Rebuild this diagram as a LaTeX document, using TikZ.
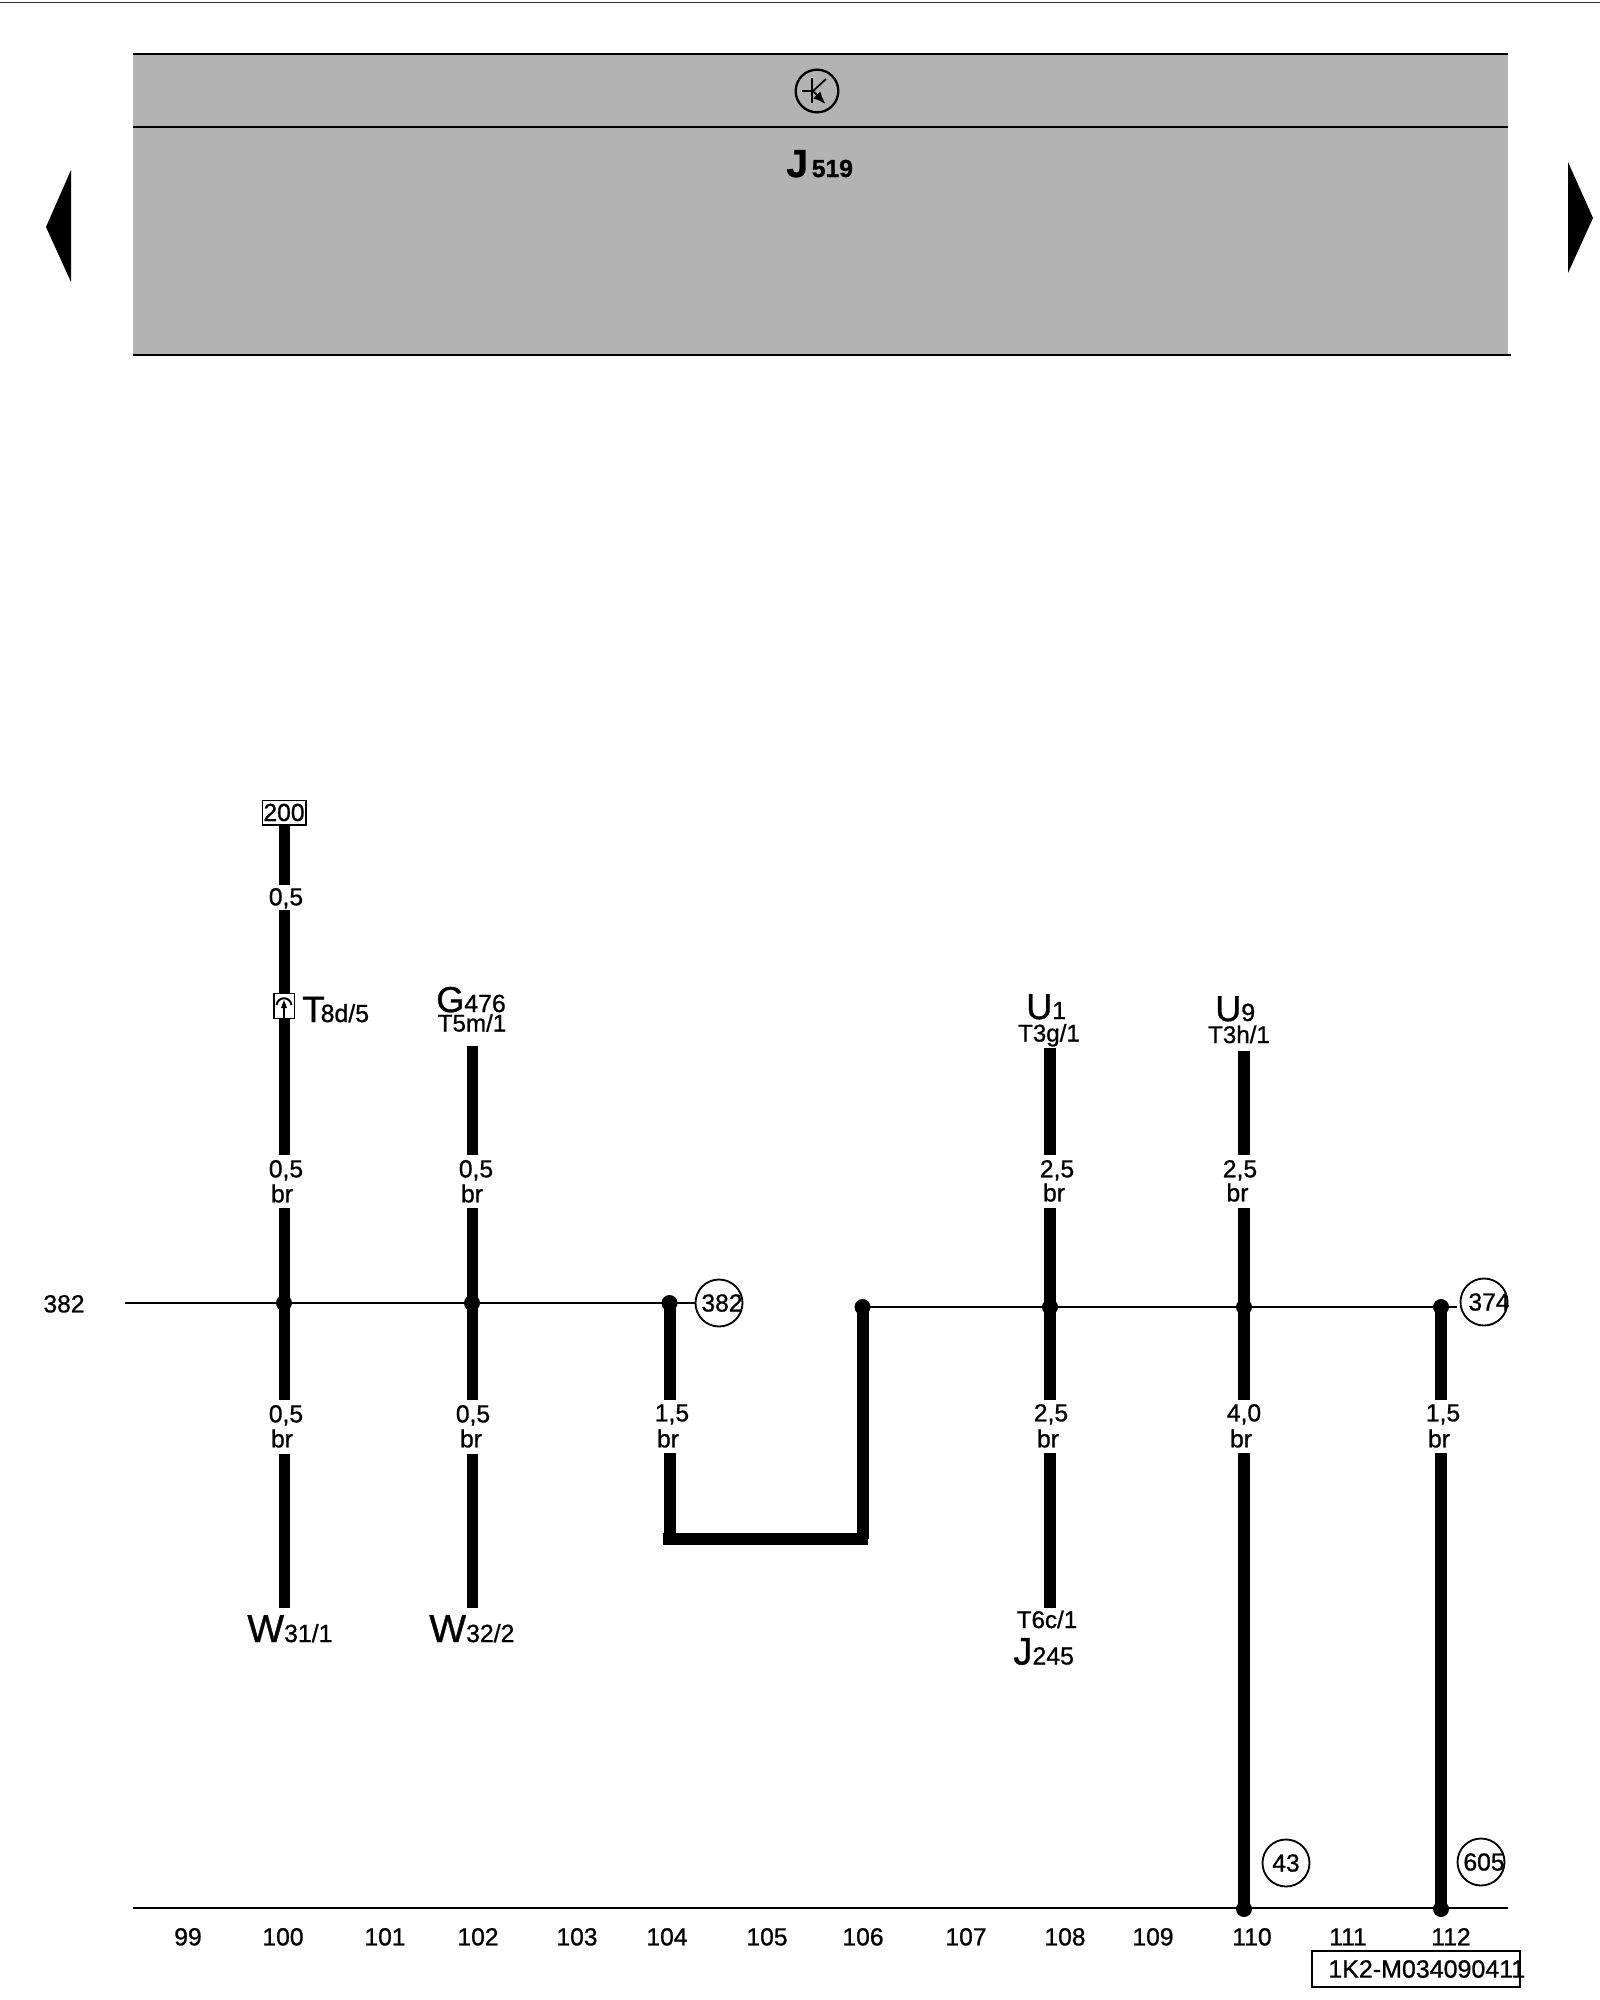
\documentclass[tikz,border=0pt]{standalone}
\usepackage{fontspec}
\setmainfont{Liberation Sans}[FakeBold=0.9]
\usetikzlibrary{arrows.meta}
\definecolor{panel}{HTML}{B3B3B3}
\newcommand{\bigsub}[3][21.6]{{\fontsize{#1}{24}\selectfont #2}{\fontsize{14.9}{18}\selectfont #3}}
\newcommand{\reftext}[2][0pt]{\makebox[0pt][c]{\hspace{#1}#2}}
\tikzset{
  wire/.style={line width=6.6pt,line cap=butt,black},
  heavy wire/.style={line width=7.2pt,line cap=butt,black},
  thin wire/.style={line width=1.2pt,black},
  joint/.style={circle,fill=black,draw=none,minimum size=9.6pt,inner sep=0pt},
  lab/.style={inner sep=0pt,font=\fontsize{14.8}{16}\selectfont,text height=10pt,text depth=0pt,anchor=center},
  pin/.style={inner sep=0pt,font=\fontsize{14.5}{16}\selectfont,text height=9.6pt,text depth=0pt,anchor=center},
  name big/.style={inner sep=0pt,anchor=base west},
  ref/.style={circle,draw=black,line width=1.1pt,fill=white,minimum size=28.2pt,inner sep=0pt,font=\fontsize{14.8}{16}\selectfont},
  col/.style={inner sep=0pt,font=\fontsize{14.8}{16}\selectfont,text height=10pt,text depth=0pt,anchor=center},
  rule/.style={line width=1.3pt,black},
  nav/.style={fill=black,draw=none}
}
\begin{document}
\begin{tikzpicture}[x=0.6pt,y=-0.6pt]
\useasboundingbox (0,0) rectangle (1600,2000);
\fill[white] (0,0) rectangle (1600,2000);
% top rule
\coordinate (tl) at (0,2.5); \coordinate (tr) at (1600,2.5);
\draw[line width=1.1pt,black!80] (tl) -- (tr);
% panel
\fill[panel] (133,54) rectangle (1508,355);
\coordinate (p1l) at (133,54);  \coordinate (p1r) at (1508,54);
\coordinate (p2l) at (133,127); \coordinate (p2r) at (1508,127);
\coordinate (p3l) at (133,355); \coordinate (p3r) at (1511,355);
\draw[rule] (p1l) -- (p1r);
\draw[rule] (p2l) -- (p2r);
\draw[rule] (p3l) -- (p3r);
% transistor symbol
\node[circle,draw=black,line width=1.4pt,minimum size=25.6pt,inner sep=0pt] (tsym) at (817,91) {};
\draw[line width=1pt] (812,78) -- (812,103);
\draw[line width=1pt] (802,91) -- (812,91);
\draw[line width=1pt] (812,92) -- (826,79);
\draw[line width=1pt,-{Latex[length=7.5pt,width=6pt]}] (812,90) -- (825.5,104);
% J519
\node[name big] (j519) at (786,177) {\bfseries{\fontsize{23.5}{26}\selectfont J}\hspace{2.2pt}{\fontsize{14.8}{18}\selectfont 519}};
% nav arrows
\fill[nav] (46,227) -- (71,170) -- (71,282) -- cycle;
\fill[nav] (1593,218) -- (1568,162) -- (1568,273) -- cycle;
% horizontal bus lines
\node[lab] (l382) at (64,1304) {382};
\coordinate (busLstart) at (125,1303);
\node[joint] (j1) at (284,1303) {};
\node[joint] (j2) at (472,1303) {};
\node[joint] (j3) at (669.5,1303) {};
\node[ref] (r382) at (719,1303) {\reftext[3.6pt]{382}};
\draw[thin wire] (busLstart) -- (j1.center) -- (j2.center) -- (j3.center) -- (r382);
\node[joint] (j4) at (862.5,1307) {};
\node[joint] (j5) at (1050,1307) {};
\node[joint] (j6) at (1244,1307) {};
\node[joint] (j7) at (1441,1307) {};
\coordinate (busRend) at (1457,1307);
\draw[thin wire] (j4.center) -- (j5.center) -- (j6.center) -- (j7.center) -- (busRend);
\node[ref] (r374) at (1484,1302) {\reftext[6pt]{374}};
% bottom line
\coordinate (botl) at (133,1908); \coordinate (botr) at (1508,1908);
\draw[thin wire] (botl) -- (botr);
\node[joint] (j8) at (1244,1909) {};
\node[joint] (j9) at (1441,1909) {};
\node[ref] (r43) at (1286,1863) {\reftext{43}};
\node[ref] (r605) at (1481,1862) {\reftext[3.6pt]{605}};
% column 100
\node[draw=black,line width=1pt,fill=white,minimum width=26pt,minimum height=14.6pt,inner sep=0pt,font=\fontsize{14.8}{16}\selectfont] (b200) at (284,812.5) {200};
\coordinate (a1) at (284,885);
\node[lab] (a2l) at (286,897) {0,5};
\coordinate (a2) at (284,910);
\coordinate (a3) at (284,1155);
\node[lab] (a3l) at (286,1169) {0,5};
\node[lab] (a3b) at (282,1194) {br};
\coordinate (a4) at (284,1208);
\coordinate (a5) at (284,1400);
\node[lab] (a5l) at (286,1414) {0,5};
\node[lab] (a5b) at (282,1439) {br};
\coordinate (a6) at (284,1454);
\coordinate (a7) at (284,1608);
\draw[wire] (b200.south) -- (a1);
\draw[wire] (a2) -- (a3);
\draw[wire] (a4) -- (j1.center) -- (a5);
\draw[wire] (a6) -- (a7);
\node[draw=black,line width=1pt,fill=white,minimum width=12.4pt,minimum height=15pt,inner sep=0pt] (conn) at (284,1006) {};
\draw[line width=0.8pt] (284,1018) -- (284,1002);
\draw[line width=1.2pt] (276.5,1005) .. controls (278,996) and (290,996) .. (291.5,1005);
\fill (284,1000) -- (281,1008) -- (287,1008) -- cycle;
\node[name big] (t8d) at (302,1022) {\bigsub[22]{T\kern-2.4pt}{8d/5}};
\node[name big] (w31) at (247,1642) {\bigsub[23.4]{W}{31/1}};
% column 102
\coordinate (b1) at (472,1046);
\coordinate (b2) at (472,1155);
\node[lab] (b2l) at (476,1169) {0,5};
\node[lab] (b2b) at (472,1194) {br};
\coordinate (b3) at (472,1208);
\coordinate (b4) at (472,1400);
\node[lab] (b4l) at (473,1414) {0,5};
\node[lab] (b4b) at (471,1439) {br};
\coordinate (b5) at (472,1454);
\coordinate (b6) at (472,1608);
\draw[wire] (b1) -- (b2);
\draw[wire] (b3) -- (j2.center) -- (b4);
\draw[wire] (b5) -- (b6);
\node[name big] (g476) at (436,1012) {\bigsub[21.6]{G}{476}};
\node[pin] (t5m) at (472,1023.5) {T5m/1};
\node[name big] (w32) at (429,1642) {\bigsub[23.4]{W}{32/2}};
% column 104-106
\coordinate (c1) at (669.5,1400);
\node[lab] (c1l) at (672,1413) {1,5};
\node[lab] (c1b) at (668,1439) {br};
\coordinate (c2) at (669.5,1453);
\coordinate (c3) at (663,1539);
\coordinate (c4) at (868,1539);
\coordinate (c5) at (862.5,1539);
\coordinate (c6) at (669.5,1539);
\draw[heavy wire] (j3.center) -- (c1);
\draw[heavy wire] (c2) -- (c6);
\draw[heavy wire] (c3) -- (c4);
\draw[heavy wire] (j4.center) -- (c5);
% column 108
\coordinate (d1) at (1050,1048);
\coordinate (d2) at (1050,1155);
\node[lab] (d2l) at (1057,1169) {2,5};
\node[lab] (d2b) at (1054,1193) {br};
\coordinate (d3) at (1050,1208);
\coordinate (d4) at (1050,1400);
\node[lab] (d4l) at (1051,1413) {2,5};
\node[lab] (d4b) at (1048,1439) {br};
\coordinate (d5) at (1050,1453);
\coordinate (d6) at (1050,1608);
\draw[heavy wire] (d1) -- (d2);
\draw[heavy wire] (d3) -- (j5.center) -- (d4);
\draw[heavy wire] (d5) -- (d6);
\node[name big] (u1) at (1026,1019) {\bigsub[21.6]{U}{1}};
\node[pin] (t3g) at (1049,1033.5) {T3g/1};
\node[pin] (t6c) at (1047,1620) {T6c/1};
\node[name big] (j245) at (1013,1664.5) {\bigsub[23]{J}{245}};
% column 110
\coordinate (e1) at (1244,1051);
\coordinate (e2) at (1244,1155);
\node[lab] (e2l) at (1240,1169) {2,5};
\node[lab] (e2b) at (1237.5,1193) {br};
\coordinate (e3) at (1244,1208);
\coordinate (e4) at (1244,1400);
\node[lab] (e4l) at (1244,1413) {4,0};
\node[lab] (e4b) at (1241,1439) {br};
\coordinate (e5) at (1244,1453);
\draw[heavy wire] (e1) -- (e2);
\draw[heavy wire] (e3) -- (j6.center) -- (e4);
\draw[heavy wire] (e5) -- (j8.center);
\node[name big] (u9) at (1215,1021) {\bigsub[21.6]{U}{9}};
\node[pin] (t3h) at (1239,1035) {T3h/1};
% column 112
\coordinate (f1) at (1441,1400);
\node[lab] (f1l) at (1443,1413) {1,5};
\node[lab] (f1b) at (1439,1439) {br};
\coordinate (f2) at (1441,1453);
\draw[heavy wire] (j7.center) -- (f1);
\draw[heavy wire] (f2) -- (j9.center);
% column numbers
\foreach \n/\x in {99/188,100/283,101/385,102/478,103/577,104/667,105/767,106/863,107/966,108/1065,109/1153,110/1252,111/1348,112/1451}{
  \node[col] (n\n) at (\x,1937) {\n};
}
% code box
\node[draw=black,line width=1pt,minimum width=124.8pt,minimum height=21.6pt,inner sep=0pt] (codebox) at (1416,1969) {};
\node[inner sep=0pt,anchor=west,font=\fontsize{15}{16}\selectfont] (code) at (1328,1969) {1K2-M034090411};
\end{tikzpicture}
\end{document}
